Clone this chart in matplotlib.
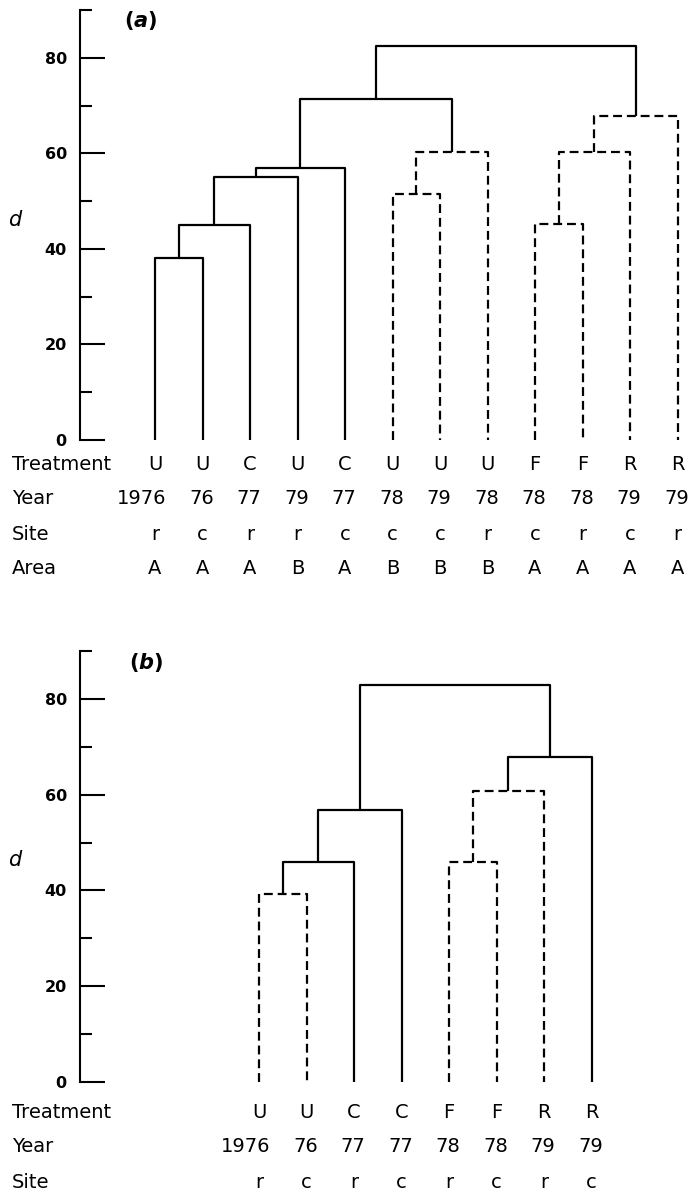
import numpy as np
import matplotlib
matplotlib.use('Agg')
from matplotlib import pyplot as plt
from matplotlib import transforms

plt.rcParams['font.family'] = ['DejaVu Sans']
plt.rcParams['mathtext.fontset'] = 'custom'
plt.rcParams['mathtext.it'] = 'DejaVu Sans:italic:bold'

# panel (a) leaves
a_treatment = ['U', 'U', 'C', 'U', 'C', 'U', 'U', 'U', 'F', 'F', 'R', 'R']
a_year = ['1976', '76', '77', '79', '77', '78', '79', '78', '78', '78', '79', '79']
a_site = ['r', 'c', 'r', 'r', 'c', 'c', 'c', 'r', 'c', 'r', 'c', 'r']
a_area = ['A', 'A', 'A', 'B', 'A', 'B', 'B', 'B', 'A', 'A', 'A', 'A']
# panel (a) merges: new node ids start at 12
a_left = [0, 12, 13, 14, 5, 16, 15, 8, 19, 20, 18]
a_right = [1, 2, 3, 4, 6, 7, 17, 9, 10, 11, 21]
a_height = [38, 45, 55, 57, 51.5, 60.3, 71.4, 45.2, 60.3, 67.9, 82.5]
a_dashed = [False, False, False, False, True, True, False, True, True, True, False]

# panel (b) leaves
b_treatment = ['U', 'U', 'C', 'C', 'F', 'F', 'R', 'R']
b_year = ['1976', '76', '77', '77', '78', '78', '79', '79']
b_site = ['r', 'c', 'r', 'c', 'r', 'c', 'r', 'c']
# panel (b) merges: new node ids start at 8
b_left = [0, 8, 9, 4, 11, 12, 10]
b_right = [1, 2, 3, 5, 6, 7, 13]
b_height = [39.2, 46.0, 56.7, 46.0, 60.8, 67.9, 82.9]
b_dashed = [True, False, False, True, True, False, False]

H = 1193.0
fig = plt.figure(figsize=(6.93, 11.93), dpi=100)


def draw_tree(ax, xs, left, right, height, dashed):
    # every leaf starts at d = 0, every merge sits over the middle of its children
    pos = [(x, 0.0) for x in xs]
    for l, r, h, d in zip(left, right, height, dashed):
        xa, ya = pos[l]
        xb, yb = pos[r]
        ls = (0, (4, 2.2)) if d else '-'
        ax.plot([xa, xa, xb, xb], [ya, h, h, yb], color='black', lw=1.6,
                ls=ls, solid_capstyle='butt', dash_capstyle='butt')
        pos.append(((xa + xb) / 2.0, h))


def setup_axis(ax):
    ax.set_ylim(0, 90)
    ax.set_xlim(-1.579, 11.263)
    for s in ['top', 'right', 'bottom']:
        ax.spines[s].set_visible(False)
    ax.spines['left'].set_linewidth(1.5)
    ax.set_yticks([0, 20, 40, 60, 80])
    ax.set_yticks([10, 30, 50, 70, 90], minor=True)
    ax.tick_params(axis='y', which='major', direction='in', length=18, width=1.5,
                   labelsize=11.5, pad=9.5)
    ax.tick_params(axis='y', which='minor', direction='in', length=8.6, width=1.5)
    for lab in ax.get_yticklabels():
        lab.set_fontweight('bold')
    ax.set_xticks([])


def leaf_rows(ax, xs, rows, ypix):
    # row titles at the left edge, leaf labels under each leaf
    tr = transforms.blended_transform_factory(ax.transData, fig.transFigure)
    for (name, labels), yp in zip(rows, ypix):
        fy = 1 - yp / H
        fig.text(12 / 693.0, fy, name, fontsize=14, ha='left', va='center')
        for x, lab in zip(xs, labels):
            if name == 'Year':
                # last two digits sit under the leaf
                ax.text(x + 0.24, fy, lab, fontsize=14, ha='right', va='center',
                        transform=tr)
            else:
                ax.text(x, fy, lab, fontsize=14, ha='center', va='center',
                        transform=tr)


# panel (a)
ax1 = fig.add_axes([80 / 693.0, (H - 440) / H, 610 / 693.0, 430 / H])
setup_axis(ax1)
xa = np.arange(len(a_treatment))
draw_tree(ax1, xa, a_left, a_right, a_height, a_dashed)
fig.text(15 / 693.0, 1 - 220 / H, 'd', fontsize=15, fontstyle='italic', ha='center', va='center')
fig.text(141 / 693.0, 1 - 21 / H, r'($\mathit{a}$)', fontsize=15, fontweight='bold',
         ha='center', va='center')
leaf_rows(ax1, xa, [('Treatment', a_treatment), ('Year', a_year), ('Site', a_site),
                    ('Area', a_area)], [465, 499, 534, 568])

# panel (b)
ax2 = fig.add_axes([80 / 693.0, (H - 1082) / H, 610 / 693.0, 431 / H])
setup_axis(ax2)
xb = 2.19 + np.arange(len(b_treatment))
draw_tree(ax2, xb, b_left, b_right, b_height, b_dashed)
fig.text(15 / 693.0, 1 - 860 / H, 'd', fontsize=15, fontstyle='italic', ha='center', va='center')
fig.text(146 / 693.0, 1 - 663 / H, r'($\mathit{b}$)', fontsize=15, fontweight='bold',
         ha='center', va='center')
leaf_rows(ax2, xb, [('Treatment', b_treatment), ('Year', b_year), ('Site', b_site)],
          [1113, 1147, 1182])

plt.savefig('out.png', dpi=100)
